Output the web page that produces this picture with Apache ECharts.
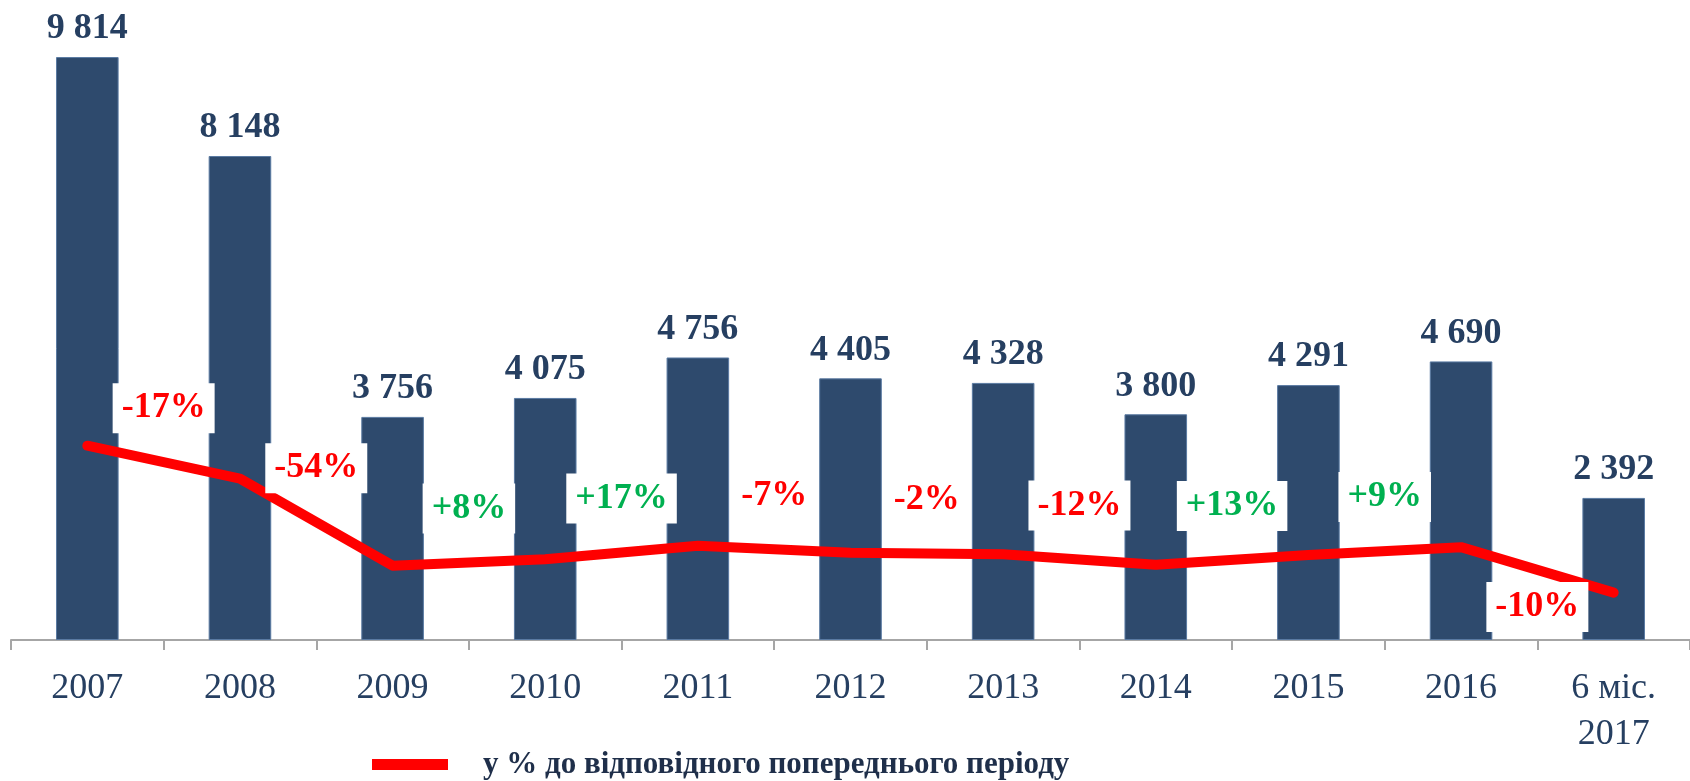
<!DOCTYPE html>
<html>
<head>
<meta charset="utf-8">
<script src="https://cdn.jsdelivr.net/npm/echarts@6/dist/echarts.min.js"></script>
<style>
html,body{margin:0;padding:0;background:#fff;}
#chart{width:1690px;height:781px;}
</style>
</head>
<body>
<div id="chart"></div>
<script>
const categories = ['2007','2008','2009','2010','2011','2012','2013','2014','2015','2016','6 міс.\n2017'];
const values = [9814, 8148, 3756, 4075, 4756, 4405, 4328, 3800, 4291, 4690, 2392];
const changes = [-17, -54, 8, 17, -7, -2, -12, 13, 9, -10];
const legendName = 'у % до відповідного попереднього періоду';

const SERIF = '"Liberation Serif", "Times New Roman", serif';
const NAVY = '#2e4a6d';
const TEXT = '#263f61';

function fmtThousands(v){
  return String(v).replace(/\B(?=(\d{3})+(?!\d))/g, ' ');
}

const changePoints = changes.map((c, i) => {
  const last = i === changes.length - 1;
  return {
    value: [i + 1, (values[i] + values[i + 1]) / 2, c],
    label: {
      show: true,
      position: 'inside',
      offset: [0, last ? 37 : -54],
      fontFamily: SERIF,
      fontWeight: 'bold',
      fontSize: 36,
      color: c < 0 ? '#ff0000' : '#00b050',
      backgroundColor: '#ffffff',
      padding: [7, 9, 7, 9],
      opacity: 1
    }
  };
});

const chart = echarts.init(document.getElementById('chart'));
chart.setOption({
  animation: false,
  backgroundColor: '#ffffff',
  grid: {left: 11, right: -8, top: 46, bottom: 141, containLabel: false},
  legend: {
    show: true,
    left: 367,
    top: 744,
    icon: 'rect',
    itemWidth: 76,
    itemHeight: 11,
    data: [legendName],
    textStyle: {
      fontFamily: SERIF,
      fontWeight: 'bold',
      fontSize: 31,
      color: '#1f2f4a',
      padding: [0, 0, 0, 30]
    }
  },
  xAxis: [
    {
      type: 'category',
      data: categories,
      axisLine: {show: true, lineStyle: {color: '#a6a6a6', width: 2}},
      axisTick: {show: true, length: 10, lineStyle: {color: '#a6a6a6', width: 2}},
      axisLabel: {
        fontFamily: SERIF,
        fontSize: 36,
        color: TEXT,
        margin: 26,
        lineHeight: 46,
        interval: 0
      }
    },
    {
      type: 'value',
      min: 0,
      max: categories.length,
      show: false
    }
  ],
  yAxis: [
    {type: 'value', min: 0, max: 10000, show: false, splitLine: {show: false}},
    {type: 'value', min: 0, max: 30000, show: false, splitLine: {show: false}}
  ],
  series: [
    {
      type: 'bar',
      data: values,
      barWidth: '41%',
      itemStyle: {color: NAVY, borderColor: '#5a7aa2', borderWidth: 1},
      label: {
        show: true,
        position: 'top',
        distance: 10,
        fontFamily: SERIF,
        fontWeight: 'bold',
        fontSize: 36,
        color: TEXT,
        formatter: p => fmtThousands(p.value)
      },
      z: 1
    },
    {
      type: 'line',
      name: legendName,
      yAxisIndex: 1,
      data: values,
      symbol: 'none',
      itemStyle: {color: '#ff0000'},
      lineStyle: {color: '#ff0000', width: 10, cap: 'round', join: 'round'},
      z: 3
    },
    {
      type: 'scatter',
      xAxisIndex: 1,
      yAxisIndex: 1,
      data: changePoints,
      symbolSize: 0,
      silent: true,
      itemStyle: {opacity: 1},
      label: {
        show: true,
        position: 'inside',
        fontFamily: SERIF,
        fontWeight: 'bold',
        fontSize: 36,
        backgroundColor: '#ffffff',
        padding: [7, 9, 7, 9],
        formatter: p => (p.value[2] > 0 ? '+' : '') + p.value[2] + '%'
      },
      z: 5
    }
  ]
});
</script>
</body>
</html>
